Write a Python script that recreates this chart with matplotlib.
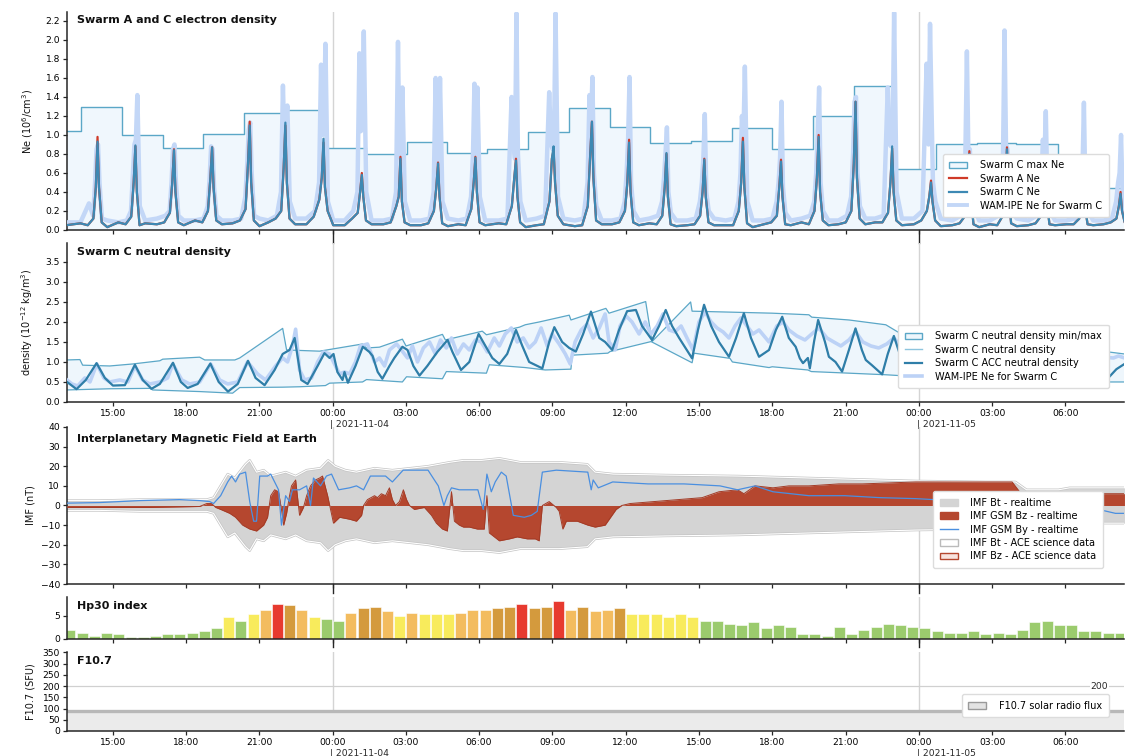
import numpy as np
import matplotlib
matplotlib.use("Agg")
import matplotlib.pyplot as plt
import matplotlib.dates as mdates
import matplotlib.transforms as mtrans
import matplotlib.patheffects as pe
from matplotlib.patches import Patch
from matplotlib.lines import Line2D

plt.rcParams['font.family'] = ['DejaVu Sans']

T0 = np.datetime64('2021-11-04T00:00')


def hrs(h):
    # hours relative to 2021-11-04 00:00 -> datetime64
    sec = np.round(np.asarray(h, dtype=float) * 3600).astype('int64')
    return T0 + sec.astype('timedelta64[s]')


# ---------------- panel 1 : electron density ----------------
ne_peak_h = [-9.62, -8.07, -6.49, -4.93, -3.39, -1.93, -0.37, 1.20, 2.78, 4.32,
             5.85, 7.51, 9.05, 10.62, 12.14, 13.67, 15.22, 16.80, 18.36, 19.90,
             21.41, 22.91, 24.50, 26.07, 27.61, 29.18, 30.74, 32.26]
ne_offsets = [-0.70, -0.40, -0.17, -0.07, 0.0, 0.06, 0.17, 0.40]
ne_c = [0.07, 0.05, 0.12, 0.45, 0.93, 0.45, 0.08, 0.03,
        0.08, 0.06, 0.14, 0.50, 0.89, 0.40, 0.05, 0.07,
        0.06, 0.08, 0.18, 0.50, 0.84, 0.40, 0.08, 0.05,
        0.10, 0.08, 0.20, 0.55, 0.87, 0.45, 0.10, 0.06,
        0.07, 0.10, 0.22, 0.70, 1.10, 0.50, 0.10, 0.04,
        0.08, 0.12, 0.20, 0.65, 1.13, 0.50, 0.12, 0.06,
        0.06, 0.14, 0.32, 0.55, 0.96, 0.45, 0.20, 0.05,
        0.05, 0.12, 0.18, 0.40, 0.58, 0.35, 0.10, 0.06,
        0.06, 0.08, 0.25, 0.35, 0.75, 0.30, 0.08, 0.05,
        0.05, 0.07, 0.20, 0.45, 0.70, 0.35, 0.07, 0.04,
        0.06, 0.05, 0.22, 0.50, 0.76, 0.40, 0.08, 0.05,
        0.07, 0.06, 0.25, 0.55, 0.73, 0.35, 0.08, 0.03,
        0.05, 0.06, 0.30, 0.75, 0.88, 0.50, 0.15, 0.06,
        0.04, 0.05, 0.25, 0.80, 1.14, 0.55, 0.10, 0.06,
        0.06, 0.08, 0.20, 0.50, 0.92, 0.40, 0.08, 0.05,
        0.07, 0.06, 0.15, 0.45, 0.81, 0.35, 0.06, 0.04,
        0.05, 0.06, 0.15, 0.40, 0.74, 0.35, 0.08, 0.05,
        0.05, 0.05, 0.20, 0.50, 0.93, 0.45, 0.07, 0.03,
        0.06, 0.08, 0.15, 0.45, 0.72, 0.35, 0.06, 0.05,
        0.08, 0.06, 0.20, 0.55, 0.98, 0.40, 0.10, 0.05,
        0.06, 0.08, 0.20, 0.70, 1.35, 0.55, 0.12, 0.06,
        0.08, 0.08, 0.18, 0.50, 0.88, 0.40, 0.10, 0.05,
        0.06, 0.10, 0.20, 0.35, 0.50, 0.30, 0.10, 0.04,
        0.05, 0.07, 0.15, 0.45, 0.80, 0.35, 0.06, 0.03,
        0.06, 0.05, 0.15, 0.45, 0.85, 0.40, 0.07, 0.04,
        0.05, 0.07, 0.15, 0.40, 0.64, 0.30, 0.06, 0.05,
        0.06, 0.06, 0.12, 0.30, 0.45, 0.25, 0.06, 0.05,
        0.06, 0.08, 0.12, 0.25, 0.38, 0.20, 0.08, 0.06]
ne_a_peak = [0.98, 0.88, 0.85, 0.87, 1.14, 1.10, 0.92, 0.60, 0.77, 0.71,
             0.77, 0.75, 0.84, 1.14, 0.95, 0.80, 0.75, 0.97, 0.74, 1.00,
             1.35, 0.86, 0.52, 0.83, 0.87, 0.68, 0.47, 0.40]

wam_offsets = [-0.70, -0.35, -0.18, -0.10, -0.04, 0.02, 0.08, 0.18, 0.40]
wam_ne = [0.08, 0.28, 0.15, 0.50, 0.85, 0.90, 0.50, 0.12, 0.10,
          0.08, 0.10, 0.20, 0.60, 0.90, 0.95, 1.42, 0.25, 0.10,
          0.12, 0.15, 0.20, 0.50, 0.85, 0.90, 0.50, 0.15, 0.10,
          0.10, 0.12, 0.25, 0.55, 0.88, 0.85, 0.45, 0.15, 0.10,
          0.10, 0.12, 0.35, 0.70, 1.05, 1.13, 0.60, 0.15, 0.12,
          0.10, 0.15, 0.40, 1.52, 0.90, 1.13, 1.31, 0.30, 0.12,
          0.12, 0.20, 0.50, 1.74, 1.00, 1.20, 1.96, 0.30, 0.10,
          0.10, 0.20, 0.40, 1.86, 1.04, 1.20, 2.09, 0.40, 0.10,
          0.10, 0.12, 0.40, 1.98, 0.80, 0.75, 1.50, 0.30, 0.10,
          0.10, 0.12, 0.40, 1.60, 0.75, 0.70, 1.60, 0.30, 0.12,
          0.10, 0.12, 0.35, 0.80, 1.54, 0.80, 1.50, 0.35, 0.10,
          0.10, 0.12, 1.40, 0.90, 0.75, 2.28, 0.80, 0.30, 0.10,
          0.12, 0.15, 1.45, 0.90, 0.85, 1.00, 2.28, 0.35, 0.12,
          0.10, 0.12, 0.50, 1.42, 1.10, 1.61, 0.60, 0.25, 0.10,
          0.10, 0.12, 0.30, 0.60, 0.95, 1.61, 0.50, 0.20, 0.10,
          0.12, 0.15, 0.30, 0.55, 0.80, 1.08, 0.40, 0.18, 0.10,
          0.10, 0.12, 0.30, 0.50, 0.75, 1.22, 0.40, 0.20, 0.12,
          0.10, 0.12, 0.30, 0.60, 1.20, 0.95, 1.72, 0.30, 0.10,
          0.10, 0.12, 0.30, 0.50, 0.75, 1.35, 0.45, 0.18, 0.10,
          0.12, 0.15, 0.30, 0.60, 1.00, 1.50, 0.50, 0.20, 0.10,
          0.10, 0.15, 0.35, 0.80, 1.35, 1.40, 0.60, 0.25, 0.12,
          0.12, 0.15, 1.50, 0.90, 0.88, 1.00, 2.29, 0.40, 0.12,
          0.12, 0.20, 1.75, 0.90, 2.17, 1.30, 0.50, 0.30, 0.12,
          0.10, 0.15, 0.50, 1.88, 0.80, 0.85, 0.50, 0.25, 0.10,
          0.10, 0.15, 0.40, 2.10, 0.90, 0.85, 0.45, 0.20, 0.12,
          0.10, 0.15, 0.30, 0.95, 0.70, 1.25, 0.45, 0.20, 0.10,
          0.10, 0.12, 0.30, 0.50, 0.60, 1.34, 0.40, 0.20, 0.10,
          0.10, 0.12, 0.30, 0.50, 0.60, 1.00, 0.40, 0.20, 0.10]

max_ne_h = [-10.87, -10.30, -8.63, -6.95, -5.31, -3.64, -2.00, -0.29, 1.35, 3.05,
            4.70, 6.34, 8.01, 9.69, 11.37, 13.00, 14.68, 16.35, 17.99, 19.66,
            21.34, 23.02, 24.69, 26.37, 28.00, 29.68, 31.36, 32.42]
max_ne = [1.04, 1.29, 1.00, 0.86, 1.01, 1.23, 1.26, 0.86, 0.80, 0.93,
          0.81, 0.85, 1.03, 1.28, 1.08, 0.92, 0.94, 1.07, 0.85, 1.20,
          1.52, 0.64, 0.90, 0.92, 0.90, 0.62, 0.44, 0.44]

# ---------------- panel 2 : neutral density ----------------
acc_h = [-10.89, -10.48, -10.10, -9.66, -9.32, -8.99, -8.50, -8.09, -7.77, -7.41,
         -7.07, -6.53, -6.21, -5.93, -5.52, -5.00, -4.66, -4.28, -3.88, -3.46,
         -3.15, -2.78, -2.37, -2.04, -1.76, -1.55, -1.28, -1.02, -0.61, -0.33,
         -0.12, 0.04, 0.20, 0.41, 0.49, 0.63, 0.94, 1.24, 1.51, 1.64,
         1.85, 2.04, 2.33, 2.53, 2.86, 3.07, 3.31, 3.56, 3.88, 4.29,
         4.71, 4.91, 5.26, 5.60, 5.98, 6.26, 6.54, 6.83, 7.15, 7.51,
         7.77, 8.05, 8.59, 8.87, 9.08, 9.40, 9.69, 9.96, 10.26, 10.58,
         10.92, 11.16, 11.45, 11.73, 12.06, 12.42, 12.67, 13.08, 13.37, 13.64,
         13.90, 14.19, 14.72, 14.96, 15.21, 15.50, 15.82, 16.23, 16.52, 16.84,
         17.13, 17.46, 17.87, 18.15, 18.41, 18.68, 18.96, 19.13, 19.26, 19.46,
         19.54, 19.71, 19.88, 20.16, 20.32, 20.59, 20.86, 21.14, 21.41, 21.67,
         21.83, 22.08, 22.50, 22.73, 22.98, 23.22, 23.45, 23.59, 23.88, 24.50,
         25.03, 25.43, 26.04, 26.57, 26.98, 27.60, 28.13, 28.54, 29.15, 29.72,
         30.13, 30.74, 31.28, 31.68, 32.09, 32.42]
acc = [0.51, 0.32, 0.55, 0.97, 0.60, 0.41, 0.42, 0.93, 0.55, 0.33,
       0.45, 0.98, 0.50, 0.35, 0.45, 0.96, 0.50, 0.26, 0.45, 1.03,
       0.60, 0.42, 0.80, 1.20, 1.30, 1.60, 0.55, 0.45, 0.90, 1.22,
       1.10, 1.20, 0.75, 0.55, 0.75, 0.48, 0.90, 1.38, 1.25, 1.15,
       0.75, 0.58, 0.90, 1.10, 1.38, 1.30, 0.90, 0.66, 0.90, 1.25,
       1.55, 1.25, 0.80, 1.00, 1.70, 1.40, 1.10, 0.95, 1.20, 1.80,
       1.40, 1.00, 0.84, 1.50, 1.87, 1.50, 1.35, 1.26, 1.70, 2.26,
       1.60, 1.50, 1.30, 1.80, 2.27, 2.30, 1.90, 1.55, 1.90, 2.30,
       1.90, 1.60, 1.09, 1.80, 2.43, 1.90, 1.50, 1.13, 1.60, 2.22,
       1.60, 1.13, 1.30, 1.80, 2.13, 1.60, 1.38, 1.09, 0.97, 1.10,
       0.84, 1.50, 2.05, 1.50, 1.13, 1.00, 0.76, 1.30, 1.84, 1.30,
       1.05, 0.92, 0.69, 1.20, 1.65, 1.20, 0.92, 0.76, 0.90, 1.50,
       0.75, 0.65, 1.40, 0.70, 0.60, 1.35, 0.65, 0.55, 1.30, 0.60,
       0.50, 1.20, 0.60, 0.55, 0.82, 0.95]

nd_max_h = [-10.89, -10.34, -10.23, -9.12, -8.18, -7.07, -6.95, -5.44, -5.23, -4.00,
            -3.80, -2.04, -1.88, -0.53, 1.23, 1.39, 1.92, 2.86, 3.01, 4.50,
            4.62, 6.13, 6.30, 7.65, 7.89, 8.46, 9.69, 9.76, 11.19, 11.32,
            12.82, 13.08, 14.66, 14.72, 17.99, 19.50, 19.62, 21.14, 22.65, 23.47,
            27.27, 31.77, 32.42]
nd_max = [1.05, 1.06, 0.92, 0.90, 0.95, 1.03, 1.07, 1.12, 1.05, 1.05,
          1.10, 1.84, 1.30, 1.27, 1.45, 1.35, 1.37, 1.57, 1.40, 1.69,
          1.55, 1.77, 1.68, 1.87, 1.93, 2.00, 2.17, 2.05, 2.34, 2.22,
          2.51, 1.51, 2.50, 2.27, 2.22, 2.18, 2.12, 2.05, 1.93, 1.63,
          1.45, 1.25, 1.20]
nd_min_h = [-10.89, -9.12, -7.48, -7.36, -5.44, -4.09, -3.80, -2.04, -1.35, -0.29,
            -0.12, 1.23, 1.39, 2.86, 3.03, 4.50, 4.66, 6.30, 6.42, 7.89,
            8.71, 9.76, 9.81, 11.27, 11.36, 13.04, 14.72, 14.80, 16.27, 16.37,
            17.87, 18.00, 19.46, 19.60, 21.14, 22.65, 23.47, 27.27, 31.77, 32.42]
nd_min = [0.30, 0.33, 0.34, 0.30, 0.26, 0.22, 0.36, 0.37, 0.38, 0.41,
          0.47, 0.50, 0.56, 0.50, 0.63, 0.58, 0.76, 0.72, 0.93, 0.86,
          0.80, 0.82, 1.17, 1.22, 1.26, 1.51, 0.98, 1.22, 1.09, 1.00,
          0.86, 0.88, 0.80, 0.76, 0.72, 0.68, 0.65, 0.55, 0.50, 0.50]

wam_nd_h = [-10.87, -10.67, -10.43, -10.14, -9.93, -9.65, -9.36, -9.12, -8.71, -8.38,
            -8.09, -7.77, -7.48, -7.07, -6.75, -6.54, -6.17, -5.85, -5.44, -4.99,
            -4.62, -4.29, -3.88, -3.48, -3.07, -2.74, -2.33, -2.04, -1.84, -1.64,
            -1.51, -1.35, -1.14, -0.86, -0.61, -0.37, -0.12, 0.12, 0.29, 0.49,
            0.70, 0.94, 1.14, 1.43, 1.72, 1.92, 2.13, 2.33, 2.62, 2.82,
            3.07, 3.27, 3.48, 3.72, 3.97, 4.21, 4.42, 4.66, 4.87, 5.11,
            5.36, 5.60, 5.85, 6.09, 6.34, 6.62, 6.83, 7.07, 7.32, 7.56,
            7.81, 8.05, 8.30, 8.54, 8.79, 8.99, 9.28, 9.53, 9.73, 9.93,
            10.18, 10.43, 10.67, 10.92, 11.16, 11.32, 11.57, 11.77, 12.02, 12.26,
            12.55, 12.80, 13.04, 13.29, 13.53, 13.78, 14.02, 14.27, 14.51, 14.76,
            15.00, 15.25, 15.50, 15.74, 15.99, 16.23, 16.48, 16.72, 16.97, 17.21,
            17.46, 17.87, 18.19, 18.44, 18.68, 19.01, 19.34, 19.62, 19.91, 20.24,
            20.52, 20.81, 21.14, 21.42, 21.71, 22.04, 22.36, 22.69, 22.98, 23.26,
            23.59, 27.27, 31.97, 32.18, 32.42]
wam_nd = [0.55, 0.45, 0.40, 0.60, 0.50, 0.95, 0.60, 0.50, 0.55, 0.50,
          0.90, 0.55, 0.45, 0.50, 0.60, 0.95, 0.55, 0.45, 0.50, 0.95,
          0.55, 0.45, 0.50, 1.00, 0.70, 0.55, 0.90, 1.10, 1.00, 1.40,
          1.82, 0.80, 0.55, 0.60, 1.00, 1.25, 1.20, 0.90, 0.70, 0.75,
          0.70, 1.00, 1.40, 1.45, 1.00, 1.10, 0.90, 1.30, 1.45, 1.30,
          1.10, 1.40, 1.00, 1.35, 1.50, 1.20, 1.55, 1.35, 1.60, 1.20,
          1.45, 1.30, 1.55, 1.50, 1.25, 1.60, 1.40, 1.70, 1.85, 1.50,
          1.60, 1.35, 1.50, 1.85, 1.40, 1.70, 1.45, 1.20, 0.95, 1.50,
          1.80, 1.95, 1.60, 1.85, 2.20, 1.50, 1.30, 1.90, 2.15, 2.00,
          1.70, 2.00, 1.70, 1.90, 2.20, 1.80, 1.75, 1.90, 1.60, 1.30,
          2.00, 2.25, 2.00, 1.85, 1.75, 1.60, 1.90, 2.10, 1.90, 1.70,
          1.80, 1.50, 1.90, 2.00, 1.80, 1.65, 1.55, 1.70, 1.85, 1.60,
          1.50, 1.40, 1.55, 1.75, 1.50, 1.40, 1.35, 1.45, 1.60, 1.40,
          1.30, 1.30, 1.10, 1.15, 1.10]

# ---------------- panel 3 : IMF ----------------
bt_h = [-10.87, -9.53, -7.89, -6.26, -5.15, -4.87, -4.58, -4.29, -4.00, -3.56,
        -3.39, -3.11, -2.82, -2.53, -1.92, -1.51, -1.06, -0.49, -0.18, 0.11,
        0.53, 0.98, 1.72, 2.45, 3.19, 3.91, 4.79, 5.36, 6.09, 6.83,
        7.69, 8.71, 9.28, 10.43, 10.75, 11.49, 13.65, 16.60, 19.50, 22.40,
        23.88, 26.82, 27.96, 28.41, 29.72, 30.17, 32.42]
bt = [2.5, 2.5, 3.0, 3.0, 3.0, 4.0, 10.0, 16.0, 14.0, 21.0,
      23.0, 17.0, 18.0, 15.0, 17.0, 15.0, 18.0, 19.0, 23.0, 20.0,
      18.0, 17.0, 19.0, 18.0, 19.0, 20.0, 22.0, 23.0, 23.0, 24.0,
      22.0, 22.0, 22.0, 21.0, 17.0, 16.0, 15.5, 15.0, 14.0, 13.0,
      12.5, 12.0, 12.0, 8.0, 8.0, 9.0, 9.0]

bz_h = [-10.87, -7.48, -5.44, -5.15, -4.95, -4.78, -4.58, -4.21, -3.97, -3.68,
        -3.39, -3.11, -2.82, -2.66, -2.53, -2.37, -2.21, -2.09, -2.00, -1.88,
        -1.76, -1.68, -1.51, -1.35, -1.19, -1.06, -0.90, -0.70, -0.53, -0.41,
        -0.20, -0.08, 0.04, 0.29, 0.70, 0.98, 1.19, 1.27, 1.43, 1.72,
        1.84, 2.00, 2.17, 2.33, 2.45, 2.58, 2.74, 2.90, 3.03, 3.15,
        3.35, 3.76, 4.05, 4.25, 4.50, 4.70, 4.87, 4.99, 5.19, 5.36,
        5.60, 5.93, 6.21, 6.32, 6.42, 6.83, 7.24, 7.56, 7.97, 8.30,
        8.46, 8.59, 8.87, 9.16, 9.28, 9.43, 9.57, 10.02, 10.45, 10.75,
        11.16, 11.61, 11.84, 12.18, 13.65, 15.13, 15.82, 16.58, 16.84, 17.30,
        18.03, 18.68, 19.50, 20.73, 21.69, 23.88, 26.80, 27.82, 28.25, 28.54,
        29.72, 30.17, 32.42]
bz = [-1, -1, -0.5, 1, 1, -1, -2, -4, -6, -10,
      -12, -13, -10, -6, 5, 8, 7, -2, -10, -4,
      5, 10, 13, -5, -1, 5, 10, 13, 14, 15,
      5, -2, -9, -6, -7, -8, -5, 0, 3, 5,
      4, 6, 5, 9, 3, 0, 2, 8, 3, 0,
      -2, -1, -5, -9, -12, -13, 7, -8, -10, -11,
      -11, -12, -12, 5, -14, -18, -17, -16, -17, -17,
      -18, 0, 2, -1, -3, -12, -8, -8, -10, -11,
      -10, -2, 0, 1, 2.5, 4, 7, 8, 6, 10,
      9, 10, 10, 11, 11, 12, 12, 12, 5, 4,
      4, 6, 6]

by_h = [-10.87, -9.53, -7.89, -6.26, -5.44, -5.03, -4.87, -4.58, -4.29, -4.13,
        -3.97, -3.80, -3.56, -3.39, -3.23, -3.11, -2.98, -2.66, -2.53, -2.21,
        -2.09, -1.92, -1.76, -1.64, -1.35, -1.06, -0.90, -0.78, -0.49, -0.25,
        -0.04, 0.25, 0.70, 0.98, 1.27, 1.55, 2.17, 2.45, 2.89, 3.91,
        4.17, 4.33, 4.56, 4.70, 4.87, 5.19, 5.95, 6.17, 6.32, 6.50,
        6.66, 6.91, 7.11, 7.40, 7.85, 8.14, 8.38, 8.59, 9.16, 10.45,
        10.59, 10.67, 10.88, 11.47, 12.92, 14.39, 15.86, 16.58, 17.30, 18.03,
        19.50, 20.97, 22.40, 23.88, 25.35, 26.37, 27.27, 28.85, 30.54, 31.36,
        32.05, 32.42]
by = [1.2, 1.5, 2.5, 3.0, 2.5, 2.0, 1.0, 5.0, 12.0, 15.0,
      12.0, 16.0, 17.0, 2.0, -8.0, -8.0, 15.0, 15.0, 16.0, 8.0,
      -10.0, 5.0, 2.0, 8.0, 8.0, 10.0, 0.0, 14.0, 10.0, 15.0,
      16.0, 8.0, 9.0, 10.0, 8.0, 15.0, 15.0, 12.0, 18.0, 18.0,
      13.0, 10.0, 0.0, 5.0, 9.0, 8.0, 8.0, -2.0, 16.0, 7.0,
      12.0, 17.0, 15.0, -5.0, -6.0, -5.0, -3.0, 17.0, 18.0, 17.0,
      8.0, 13.0, 9.0, 12.0, 11.0, 11.0, 10.0, 8.0, 10.0, 7.0,
      5.0, 5.0, 4.0, 3.5, 2.5, 0.0, -1.0, 0.0, -1.0, -2.0,
      -4.0, -4.0]

# ---------------- panel 4 : Hp30 (half-hourly, from 2021-11-03 13:15) ----------------
hp30 = [2.0, 1.33, 0.67, 1.33, 1.0, 0.33, 0.33, 0.67, 1.0, 1.0,
        1.33, 1.67, 2.33, 4.67, 4.0, 5.33, 6.33, 7.67, 7.33, 6.33,
        4.67, 4.33, 4.0, 5.67, 6.67, 7.0, 6.0, 5.0, 5.67, 5.33,
        5.33, 5.33, 5.67, 6.33, 6.33, 6.67, 7.0, 7.67, 6.67, 7.0,
        8.33, 6.33, 7.0, 6.0, 6.33, 6.67, 5.33, 5.33, 5.33, 4.67,
        5.33, 4.67, 4.0, 4.0, 3.33, 3.0, 3.67, 2.33, 3.0, 2.67,
        1.0, 1.0, 0.67, 2.67, 1.0, 2.0, 2.67, 3.33, 3.0, 2.67,
        2.33, 1.67, 1.33, 1.33, 1.67, 1.0, 1.33, 1.0, 2.0, 3.67,
        4.0, 3.0, 3.0, 1.67, 1.67, 1.33, 1.33]

# ---------------- panel 5 : F10.7 ----------------
f107_h = [-24, 0, 24, 48]
f107 = [90.2, 90.0, 89.8, 89.8]

# ---------------- figure ----------------
fig = plt.figure(figsize=(11.26, 7.56), dpi=100)
L, W = 0.0595, 0.9387
ax1 = fig.add_axes([L, 0.6958, W, 0.2884])
ax2 = fig.add_axes([L, 0.4683, W, 0.2103])
ax3 = fig.add_axes([L, 0.2275, W, 0.2077])
ax4 = fig.add_axes([L, 0.1548, W, 0.0556])
ax5 = fig.add_axes([L, 0.0331, W, 0.1045])
axes = [ax1, ax2, ax3, ax4, ax5]

xmin, xmax = hrs(-10.87), hrs(32.40)
dark = '#262626'
for ax in axes:
    ax.set_xlim(xmin, xmax)
    for s in ['top', 'right']:
        ax.spines[s].set_visible(False)
    for s in ['left', 'bottom']:
        ax.spines[s].set_color(dark)
        ax.spines[s].set_linewidth(1.1)
    ax.xaxis.set_major_locator(mdates.HourLocator(byhour=range(0, 24, 3)))
    ax.xaxis.set_major_formatter(mdates.DateFormatter('%H:%M'))
    ax.tick_params(labelsize=6.6, length=3, width=0.9, color=dark, pad=2)
    for mid in [0, 24]:
        ax.axvline(hrs(mid), color='#d4d4d4', lw=1.0, zorder=0)
    ax.set_facecolor('none')

for ax in [ax1, ax3, ax4]:
    ax.tick_params(labelbottom=False)
    for mid in [0, 24]:
        ax.axvline(hrs(mid), ymin=-0.06 if ax is not ax4 else -0.2, ymax=0,
                   color=dark, lw=1.0, clip_on=False)

for ax in [ax2, ax5]:
    for mid, lab in [(0, '| 2021-11-04'), (24, '| 2021-11-05')]:
        ax.annotate(lab, xy=(hrs(mid), 0), xycoords=('data', 'axes fraction'),
                    xytext=(-1.5, -13), textcoords='offset points',
                    ha='left', va='top', fontsize=6.6, color=dark)

title_kw = dict(fontsize=8, fontweight='bold', color='#111111', va='top', ha='left')
ylab_kw = dict(fontsize=7, color='#111111')
leg_kw = dict(fontsize=7, frameon=True, fancybox=True, framealpha=1,
              edgecolor='#dcdcdc', borderpad=0.7, labelspacing=0.35,
              handlelength=1.8, handletextpad=1.3)

# ---- panel 1
pk = np.array(ne_peak_h)[:, None]
ne_t = np.concatenate([[-10.9], (pk + np.array(ne_offsets)).ravel()])
ne_cv = np.concatenate([[0.05], ne_c])
ne_av = ne_cv.copy()
ne_av[1:].reshape(-1, len(ne_offsets))[:, 4] = ne_a_peak
wam_t = np.concatenate([[-10.9], (pk + np.array(wam_offsets)).ravel()])
wam_v = np.concatenate([[0.08], wam_ne])

ax1.fill_between(hrs(max_ne_h), 0, max_ne, step='post', color='#f0f7fd', lw=0, zorder=1)
ax1.step(hrs(max_ne_h), max_ne, where='post', color='#5ba7c7', lw=1.0, zorder=2)
ax1.plot(hrs(wam_t), wam_v, color='#c3d7f7', lw=3.2, zorder=3, solid_joinstyle='round')
ax1.plot(hrs(ne_t), ne_av, color='#cf3a28', lw=1.6, zorder=4)
ax1.plot(hrs(ne_t), ne_cv, color='#3d89b4', lw=1.6, zorder=5)
ax1.set_ylim(0, 2.295)
ax1.set_yticks(np.arange(0, 2.21, 0.2))
ax1.yaxis.set_major_formatter(matplotlib.ticker.FormatStrFormatter('%.1f'))
ax1.text(0.0095, 0.985, 'Swarm A and C electron density', transform=ax1.transAxes, **title_kw)
ax1.set_ylabel('Ne (10$^6$/cm$^3$)', **ylab_kw)
ax1.yaxis.set_label_coords(-0.03, 0.5)
h1 = [Patch(fc='#f0f7fd', ec='#5ba7c7', lw=1.0),
      Line2D([], [], color='#cf3a28', lw=1.6),
      Line2D([], [], color='#3d89b4', lw=1.6),
      Line2D([], [], color='#c3d7f7', lw=2.8)]
ax1.legend(h1, ['Swarm C max Ne', 'Swarm A Ne', 'Swarm C Ne', 'WAM-IPE Ne for Swarm C'],
           loc='lower right', bbox_to_anchor=(0.99, 0.035), **leg_kw)

# ---- panel 2
env_x = np.concatenate([mdates.date2num(hrs(nd_max_h)), mdates.date2num(hrs(nd_min_h))[::-1]])
env_y = np.concatenate([nd_max, nd_min[::-1]])
ax2.fill(env_x, env_y, color='#eef6fc', lw=0, zorder=1)
ax2.plot(hrs(nd_max_h), nd_max, color='#5ba7c7', lw=0.9, zorder=2)
ax2.plot(hrs(nd_min_h), nd_min, color='#5ba7c7', lw=0.9, zorder=2)
ax2.plot(hrs(wam_nd_h), wam_nd, color='#bcd2f6', lw=2.6, zorder=3, solid_joinstyle='round')
ax2.plot(hrs(acc_h), acc, color='#8ec5de', lw=0.8, zorder=4)
ax2.plot(hrs(acc_h), acc, color='#2f7ea8', lw=1.6, zorder=5)
ax2.set_ylim(0, 3.975)
ax2.set_yticks(np.arange(0, 3.51, 0.5))
ax2.yaxis.set_major_formatter(matplotlib.ticker.FormatStrFormatter('%.1f'))
ax2.text(0.0095, 0.975, 'Swarm C neutral density', transform=ax2.transAxes, **title_kw)
ax2.set_ylabel('density (10$^{-12}$ kg/m$^3$)', **ylab_kw)
ax2.yaxis.set_label_coords(-0.03, 0.5)
h2 = [Patch(fc='#eef6fc', ec='#5ba7c7', lw=1.0),
      Line2D([], [], color='#8ec5de', lw=1.0),
      Line2D([], [], color='#2f7ea8', lw=1.6),
      Line2D([], [], color='#bcd2f6', lw=2.6)]
ax2.legend(h2, ['Swarm C neutral density min/max', 'Swarm C neutral density',
                'Swarm C ACC neutral density', 'WAM-IPE Ne for Swarm C'],
           loc='lower right', bbox_to_anchor=(0.99, 0.055), **leg_kw)

# ---- panel 3
bt_a = np.array(bt)
ax3.fill_between(hrs(bt_h), -bt_a, bt_a, color='#d4d4d4', lw=0, zorder=1)
stroke = [pe.withStroke(linewidth=1.8, foreground='#c4c4c4')]
ax3.plot(hrs(bt_h), bt_a, color='white', lw=0.8, zorder=2, path_effects=stroke)
ax3.plot(hrs(bt_h), -bt_a, color='white', lw=0.8, zorder=2, path_effects=stroke)
ax3.fill_between(hrs(bz_h), 0, bz, color='#b5472f', lw=0, zorder=3)
ax3.plot(hrs(bz_h), bz, color='#a33b26', lw=0.7, zorder=4)
ax3.plot(hrs(by_h), by, color='#4a8fe0', lw=0.9, zorder=5)
ax3.set_ylim(-40, 40)
ax3.set_yticks(np.arange(-40, 41, 10))
ax3.text(0.0095, 0.955, 'Interplanetary Magnetic Field at Earth', transform=ax3.transAxes, **title_kw)
ax3.set_ylabel('IMF (nT)', **ylab_kw)
ax3.yaxis.set_label_coords(-0.03, 0.5)
h3 = [Patch(fc='#d4d4d4', ec='#d4d4d4'),
      Patch(fc='#b5472f', ec='#b5472f'),
      Line2D([], [], color='#4a8fe0', lw=1.0),
      Patch(fc='white', ec='#bbbbbb'),
      Patch(fc='#f8e3de', ec='#b5472f')]
ax3.legend(h3, ['IMF Bt - realtime', 'IMF GSM Bz - realtime', 'IMF GSM By - realtime',
                'IMF Bt - ACE science data', 'IMF Bz - ACE science data'],
           loc='lower right', bbox_to_anchor=(0.985, 0.07), **leg_kw)

# ---- panel 4
hp_t = hrs(np.arange(len(hp30)) * 0.5 - 10.75)


def hp_color(v):
    if v >= 7.5:
        return '#e73a2f'
    if v >= 6.5:
        return '#d49a3d'
    if v >= 5.5:
        return '#f3bc5f'
    if v >= 4.5:
        return '#f8eb5c'
    return '#9bcb6d'


ax4.bar(hp_t, hp30, width=0.5 / 24 * 0.9, color=[hp_color(v) for v in hp30],
        edgecolor='white', lw=0.4, zorder=2)
ax4.set_ylim(0, 9.13)
ax4.set_yticks([0, 5])
ax4.text(0.0095, 0.9, 'Hp30 index', transform=ax4.transAxes, **title_kw)

# ---- panel 5
ax5.fill_between(hrs(f107_h), 0, f107, step='post', color='#ebebeb', lw=0, zorder=1)
ax5.step(hrs(f107_h), f107, where='post', color='#b8b8b8', lw=2.4, zorder=2)
ax5.axhline(200, color='#d0d0d0', lw=0.9, zorder=1)
ax5.text(0.985, 200, '200', transform=mtrans.blended_transform_factory(ax5.transAxes, ax5.transData),
         ha='right', va='center', fontsize=6.6, color=dark,
         bbox=dict(fc='white', ec='none', pad=0.5), zorder=3)
ax5.set_ylim(0, 352)
ax5.set_yticks(np.arange(0, 351, 50))
ax5.text(0.0095, 0.95, 'F10.7', transform=ax5.transAxes, **title_kw)
ax5.set_ylabel('F10.7 (SFU)', **ylab_kw)
ax5.yaxis.set_label_coords(-0.03, 0.5)
h5 = [Patch(fc='#e3e3e3', ec='#9a9a9a', lw=1.0)]
ax5.legend(h5, ['F10.7 solar radio flux'], loc='lower right',
           bbox_to_anchor=(0.99, 0.11), **leg_kw)

fig.savefig('out.png', dpi=100)
